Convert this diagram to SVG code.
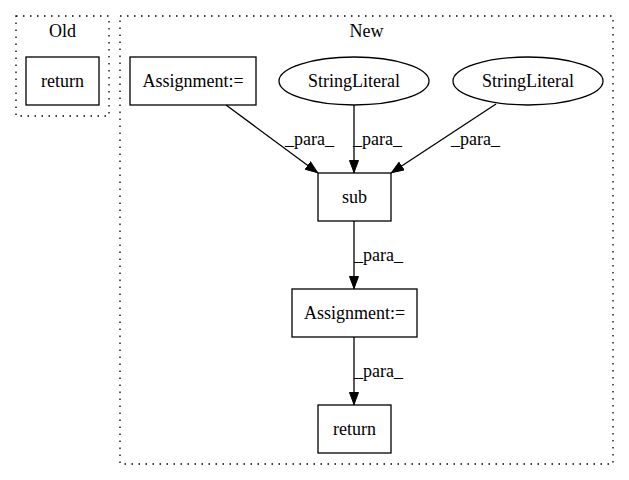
<svg xmlns="http://www.w3.org/2000/svg" width="629" height="480" viewBox="0 0 629 480">
<defs>
<style>
text{font-family:"Liberation Serif","Times New Roman",serif;font-size:18px;fill:#000}
.c{fill:none;stroke:#000;stroke-width:1.3;stroke-dasharray:1.5,5.5}
.n{fill:#fff;stroke:#000;stroke-width:1.3}
.e{fill:none;stroke:#000;stroke-width:1.3}
</style>
<marker id="ah" markerWidth="13" markerHeight="10" refX="13" refY="5" orient="auto" markerUnits="userSpaceOnUse"><path d="M0.5,0.5L12.5,5L0.5,9.5z" fill="#000" stroke="#000"/></marker>
</defs>
<rect width="629" height="480" fill="#fff"/>
<g id="cluster_old"><rect class="c" x="16" y="16" width="93" height="100"/><text x="62.5" y="37" text-anchor="middle">Old</text></g>
<g id="cluster_new"><rect class="c" x="120" y="16" width="493" height="448"/><text x="366.5" y="37" text-anchor="middle">New</text></g>
<g id="old_return"><rect class="n" x="26" y="57" width="73" height="48"/><text x="62.5" y="87" text-anchor="middle">return</text></g>
<g id="assign1"><rect class="n" x="130" y="57" width="126" height="48"/><text x="193" y="87" text-anchor="middle">Assignment:=</text></g>
<g id="str1"><ellipse class="n" cx="354" cy="81" rx="75" ry="24"/><text x="354" y="87" text-anchor="middle">StringLiteral</text></g>
<g id="str2"><ellipse class="n" cx="528" cy="81" rx="75" ry="24"/><text x="528" y="87" text-anchor="middle">StringLiteral</text></g>
<g id="sub"><rect class="n" x="318" y="173" width="73" height="48"/><text x="354.5" y="203" text-anchor="middle">sub</text></g>
<g id="assign2"><rect class="n" x="292" y="289" width="125" height="48"/><text x="354.5" y="319" text-anchor="middle">Assignment:=</text></g>
<g id="new_return"><rect class="n" x="318" y="405" width="73" height="48"/><text x="354.5" y="435" text-anchor="middle">return</text></g>
<g id="edges">
<path class="e" d="M226,105L318,173" marker-end="url(#ah)"/>
<text x="285" y="145">_para_</text>
<path class="e" d="M354,105L354,173" marker-end="url(#ah)"/>
<text x="353" y="145">_para_</text>
<path class="e" d="M496,104L391,173" marker-end="url(#ah)"/>
<text x="451" y="145">_para_</text>
<path class="e" d="M354,221L354,289" marker-end="url(#ah)"/>
<text x="354" y="261">_para_</text>
<path class="e" d="M354,337L354,405" marker-end="url(#ah)"/>
<text x="354" y="377">_para_</text>
</g>
</svg>
